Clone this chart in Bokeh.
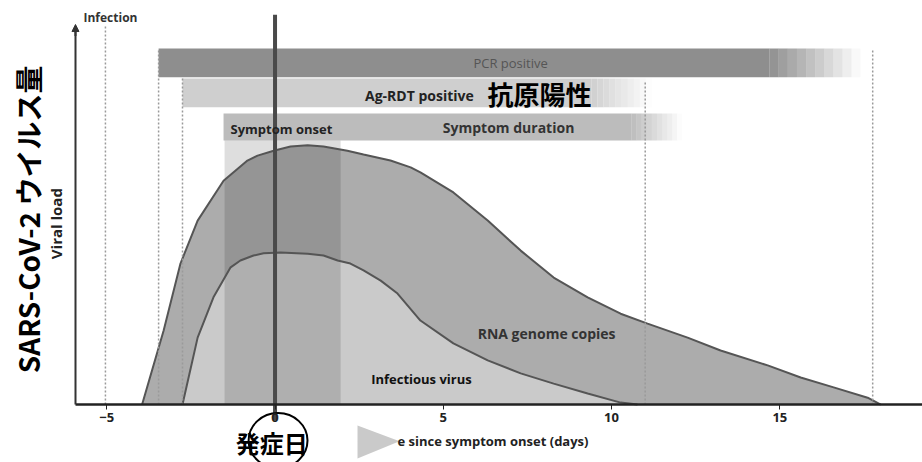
import math
from bokeh.plotting import figure
from bokeh.models import Label, FixedTicker, Arrow, NormalHead, Range1d
from bokeh.embed import file_html
from bokeh.resources import INLINE

# ---------------- data ----------------
tick_values = [-5, 0, 5, 10, 15]

rna_day = [-3.95, -3.31, -2.81, -2.30, -1.53, -0.82, -0.52, -0.04, 0.46, 0.97, 1.44,
           2.15, 2.63, 3.43, 4.03, 4.32, 5.30, 6.32, 7.30, 8.28, 9.29, 10.27, 11.07,
           12.26, 13.24, 14.64, 15.62, 16.60, 17.61, 18.0]
rna_load = [0.0, 1.95, 3.71, 4.84, 5.89, 6.42, 6.55, 6.68, 6.79, 6.82, 6.79,
            6.68, 6.58, 6.42, 6.24, 6.11, 5.58, 4.84, 4.05, 3.34, 2.82, 2.39, 2.13,
            1.76, 1.42, 1.03, 0.71, 0.45, 0.18, 0.0]

virus_day = [-2.75, -2.30, -1.83, -1.32, -1.03, -0.64, -0.34, 0.16, 0.97, 1.44, 1.86,
             2.24, 2.63, 3.14, 3.64, 4.32, 5.30, 6.32, 7.30, 8.28, 9.29, 10.27, 10.77]
virus_load = [0.0, 1.76, 2.82, 3.61, 3.79, 3.92, 3.98, 4.00, 3.97, 3.92, 3.79,
              3.71, 3.53, 3.26, 2.92, 2.21, 1.61, 1.16, 0.82, 0.55, 0.29, 0.05, 0.0]

band_names = ["PCR positive", "Ag-RDT positive", "Symptom duration"]
band_start = [-3.46, -2.75, -1.53]
band_end = [17.4, 11.2, 12.1]

onset_window = [-1.5, 1.95]
dotted_days = [-5.04, -3.46, -2.75, 11.0, 17.76]

# ---------------- figure ----------------
p = figure(width=922, height=462, x_range=Range1d(-8.158, 19.24), y_range=Range1d(-1.526, 10.632),
           output_backend="svg", toolbar_location=None, min_border=0,
           min_border_left=0, min_border_right=0, min_border_top=0, min_border_bottom=0)
p.outline_line_color = None
p.grid.visible = False
p.background_fill_color = "white"
p.border_fill_color = "white"

FONT = "Open Sans"

# horizontal bands with a fading right end
band_rows = [(8.61, 9.37, "#8e8e8e", 14.7), (7.82, 8.58, "#cfcfcf", 9.4), (6.95, 7.66, "#bcbcbc", 10.6)]
for (bot, top, col, fade), s, e in zip(band_rows, band_start, band_end):
    p.quad(left=s, right=fade, bottom=bot, top=top, fill_color=col, line_color=None)
    n = 10
    step = (e - fade) / n
    for i in range(n):
        p.quad(left=fade + i * step, right=fade + (i + 1) * step, bottom=bot, top=top,
               fill_color=col, fill_alpha=1 - (i + 0.5) / n, line_color=None)

# areas under curves
p.varea(x=rna_day, y1=0, y2=rna_load, fill_color="#acacac")
p.varea(x=virus_day, y1=0, y2=virus_load, fill_color="#cacaca")
# symptom-onset darker window
p.quad(left=onset_window[0], right=onset_window[1], bottom=0, top=6.95,
       fill_color="black", fill_alpha=0.13, line_color=None)

p.line(rna_day, rna_load, line_color="#555555", line_width=2)
p.line(virus_day, virus_load, line_color="#555555", line_width=2)

# dotted vertical markers
dotted_tops = [9.97, 9.37, 8.58, 8.53, 9.32]
p.segment(x0=dotted_days, y0=[0] * 5, x1=dotted_days, y1=dotted_tops,
          line_color="#9a9a9a", line_width=1.5, line_dash="2 2")

# thick line at symptom onset
p.segment(x0=[0], y0=[-0.42], x1=[0], y1=[10.26], line_color="#4a4a4a", line_width=4)

# gray blob over the start of the x label
p.patch([2.45, 3.7, 2.45], [-0.55, -0.97, -1.42], fill_color="#bdbdbd", line_color=None, fill_alpha=0.8)

# circle around 発症日
p.ellipse(x=[0.09], y=[-0.95], width=1.75, height=1.45, fill_color=None,
          line_color="black", line_width=2)

# axes
xa = p.xaxis[0]
xa.fixed_location = 0
xa.bounds = (-5.93, 19.24)
xa.ticker = FixedTicker(ticks=tick_values)
xa.minor_tick_line_color = None
xa.major_tick_out = 5
xa.major_tick_in = 0
xa.axis_line_width = 2.5
xa.axis_line_color = "#222222"
xa.major_tick_line_color = "#222222"
xa.major_label_text_font = FONT
xa.major_label_text_font_style = "bold"
xa.major_label_text_font_size = "13px"
xa.major_label_text_color = "#222222"
xa.major_label_standoff = 3

ya = p.yaxis[0]
ya.fixed_location = -5.93
ya.bounds = (0, 9.95)
ya.ticker = FixedTicker(ticks=[])
ya.major_tick_line_color = None
ya.minor_tick_line_color = None
ya.major_label_text_color = None
ya.axis_line_width = 2
ya.axis_line_color = "#333333"

p.add_layout(Arrow(end=NormalHead(size=7, fill_color="#333333", line_color="#333333"),
                   x_start=-5.93, y_start=9.7, x_end=-5.93, y_end=10.0,
                   line_color="#333333", line_width=2))

def lab(x, y, t, size, color="#222222", bold=True, font=FONT, align="center", angle=0.0):
    p.add_layout(Label(x=x, y=y, text=t, text_font=font, text_font_size=size,
                       text_color=color, text_font_style="bold" if bold else "normal",
                       text_align=align, text_baseline="middle", angle=angle))

lab(-4.89, 10.18, "Infection", "12px", "#333333")
lab(7.0, 9.0, band_names[0], "13px", "#555555", bold=False)
lab(4.29, 8.13, band_names[1], "14px")
lab(7.86, 8.18, "抗原陽性", "26px", "black", font="Noto Sans CJK JP")
lab(0.19, 7.26, "Symptom onset", "13px")
lab(6.94, 7.29, band_names[2], "14px", "#333333")
lab(8.07, 1.87, "RNA genome copies", "14px", "#333333")
lab(4.35, 0.68, "Infectious virus", "13px", "#111111")
lab(-0.1, -1.0, "発症日", "24px", "black", font="Noto Sans CJK JP")
lab(3.64, -0.97, "e since symptom onset (days)", "13px", "#222222", align="left")
lab(-6.52, 4.76, "Viral load", "15px", "#222222", angle=math.pi / 2)
lab(-7.34, 4.87, "SARS-CoV-2 ウイルス量", "28px", "black", font="Noto Sans CJK JP", angle=math.pi / 2)

open("out.html", "w").write(file_html(p, INLINE))
